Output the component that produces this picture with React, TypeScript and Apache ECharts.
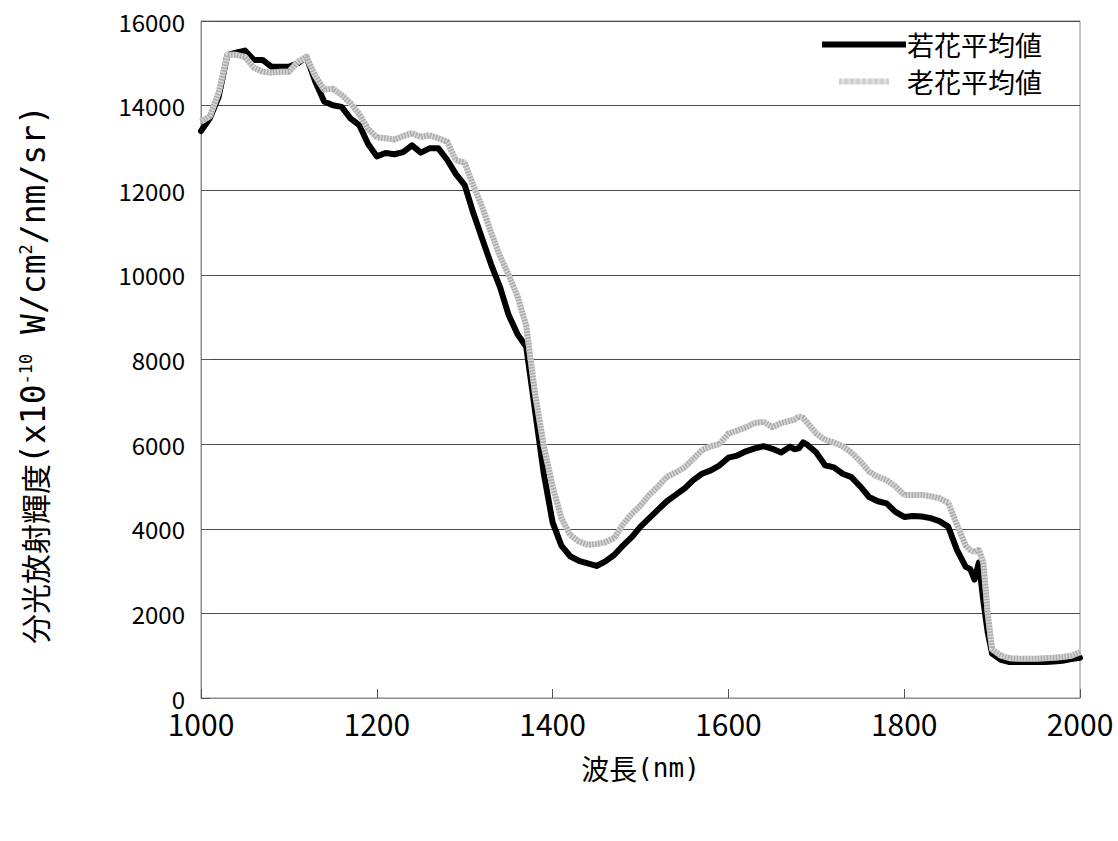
import React, { useEffect, useRef } from "react";
import * as echarts from "echarts";

const wavelengths = [
  1000, 1010, 1020, 1030, 1040, 1050, 1060, 1070, 1080, 1090,
  1100, 1110, 1120, 1130, 1140, 1150, 1160, 1170, 1180, 1190,
  1200, 1210, 1220, 1230, 1240, 1250, 1260, 1270, 1280, 1290,
  1300, 1310, 1320, 1330, 1340, 1350, 1360, 1370, 1380, 1390,
  1400, 1410, 1420, 1430, 1440, 1450, 1460, 1470, 1480, 1490,
  1500, 1510, 1520, 1530, 1540, 1550, 1560, 1570, 1580, 1590,
  1600, 1610, 1620, 1630, 1640, 1650, 1660, 1670, 1675, 1680,
  1685, 1690, 1700, 1710, 1720, 1730, 1740, 1750, 1760, 1770,
  1780, 1790, 1800, 1810, 1820, 1830, 1840, 1850, 1860, 1870,
  1875, 1880, 1885, 1890, 1895, 1900, 1910, 1920, 1930, 1940,
  1950, 1960, 1970, 1980, 1990, 2000,
];

const youngFlower = [
  13400, 13700, 14200, 15200, 15250, 15300, 15080, 15080, 14920, 14920,
  14920, 15000, 15150, 14570, 14100, 14010, 13970, 13700, 13540, 13100,
  12800, 12880, 12850, 12900, 13060, 12890, 12990, 12990, 12720, 12380,
  12120, 11450, 10850, 10250, 9720, 9050, 8600, 8300, 6800, 5300,
  4150, 3600, 3350, 3240, 3180, 3120, 3230, 3380, 3600, 3800,
  4050, 4250, 4450, 4650, 4800, 4950, 5150, 5300, 5380, 5500,
  5680, 5730, 5830, 5900, 5950, 5890, 5800, 5940, 5880, 5900,
  6040, 5980, 5800, 5500, 5450, 5300, 5220, 5000, 4750, 4650,
  4600, 4400, 4280, 4300, 4290, 4250, 4180, 4050, 3500, 3100,
  3050, 2800, 3200, 2300, 1550, 1050, 900, 850, 850, 850,
  850, 850, 860, 880, 920, 950,
];

const oldFlower = [
  13620, 13750, 14300, 15200, 15200, 15150, 14900, 14800, 14780, 14800,
  14800, 15030, 15150, 14700, 14380, 14400, 14250, 14060, 13800, 13450,
  13250, 13230, 13200, 13280, 13350, 13260, 13300, 13230, 13150, 12710,
  12650, 12100, 11600, 11000, 10450, 10000, 9500, 8800, 7200, 5950,
  5000, 4250, 3850, 3700, 3620, 3640, 3680, 3780, 4100, 4350,
  4550, 4800, 5000, 5230, 5330, 5450, 5650, 5860, 5950, 6000,
  6250, 6320, 6400, 6500, 6530, 6400, 6500, 6550, 6580, 6650,
  6620, 6500, 6250, 6100, 6040, 5950, 5800, 5600, 5350, 5230,
  5150, 5000, 4800, 4800, 4800, 4770, 4720, 4620, 4100, 3600,
  3500, 3450, 3500, 3200, 2000, 1150, 1000, 940, 930, 930,
  930, 940, 950, 970, 1000, 1080,
];

const seriesNames = ["若花平均値", "老花平均値"];
const xName = "{c|波長}{m|(nm)}";
const yName = "{c|分光放射輝度}{m|(x10}{s|-10}{m| W/cm}{s|2}{m|/nm/sr)}{gap|}";

const FONT = "'Noto Sans CJK JP', 'Noto Sans', sans-serif";
const MONO = "'DejaVu Sans Mono', 'Liberation Mono', monospace";

function stripePath(n: number): string {
  let d = "";
  for (let i = 0; i < n; i++) {
    d += `M${i * 2},0h1v10h-1z`;
  }
  return "path://" + d;
}

export default function App() {
  const ref = useRef<HTMLDivElement>(null);

  useEffect(() => {
    if (!ref.current) return;
    const chart = echarts.init(ref.current, undefined, { renderer: "svg" });
    const young = wavelengths.map((w, i) => [w, youngFlower[i]]);
    const old = wavelengths.map((w, i) => [w, oldFlower[i]]);

    const yRich = {
      c: { fontFamily: FONT, fontSize: 30, color: "#000" },
      m: { fontFamily: MONO, fontSize: 33, color: "#000" },
      s: { fontFamily: MONO, fontSize: 17, color: "#000", verticalAlign: "top", padding: [0, 0, 12, 0] },
      gap: { width: 30 },
    };
    const xRich = {
      c: { fontFamily: FONT, fontSize: 28, color: "#000" },
      m: { fontFamily: MONO, fontSize: 26, color: "#000" },
    };

    chart.setOption({
      animation: false,
      backgroundColor: "#ffffff",
      textStyle: { fontFamily: FONT },
      grid: {
        left: 201,
        right: 38,
        top: 21,
        bottom: 143,
        show: true,
        borderColor: "#8c8c8c",
        borderWidth: 1,
      },
      legend: {
        orient: "vertical",
        left: 812,
        top: 27,
        backgroundColor: "#ffffff",
        padding: [4, 14, 6, 10],
        itemWidth: 84,
        itemHeight: 6,
        itemGap: 10,
        data: [
          { name: seriesNames[0], icon: "rect", itemStyle: { color: "#000" } },
          { name: seriesNames[1], icon: stripePath(42), itemStyle: { color: "#ababab" } },
        ],
        textStyle: { fontFamily: FONT, fontSize: 27, color: "#000", padding: [0, 0, 0, -4] },
      },
      xAxis: {
        type: "value",
        min: 1000,
        max: 2000,
        interval: 200,
        name: xName,
        nameLocation: "middle",
        nameGap: 56,
        nameTextStyle: { rich: xRich },
        axisLine: { show: true, lineStyle: { color: "#8c8c8c", width: 1 } },
        axisTick: { show: true, inside: true, length: 9, lineStyle: { color: "#555" } },
        axisLabel: { fontFamily: FONT, fontSize: 30, lineHeight: 26, color: "#000", margin: 12, formatter: (v: number) => String(v) },
        splitLine: { show: false },
      },
      yAxis: {
        type: "value",
        min: 0,
        max: 16000,
        interval: 2000,
        name: yName,
        nameLocation: "middle",
        nameRotate: 90,
        nameGap: 151,
        nameTextStyle: { rich: yRich },
        axisLine: { show: true, lineStyle: { color: "#8c8c8c", width: 1 } },
        axisTick: { show: true, inside: true, length: 9, lineStyle: { color: "#555" } },
        axisLabel: { fontFamily: FONT, fontSize: 24, lineHeight: 18, color: "#000", margin: 16, formatter: (v: number) => String(v) },
        splitLine: { show: true, lineStyle: { color: "#4a4a4a", width: 1 } },
      },
      series: [
        {
          name: seriesNames[0],
          type: "line",
          data: young,
          showSymbol: false,
          symbol: "none",
          lineStyle: { color: "#000000", width: 6, join: "round", cap: "round" },
          itemStyle: { color: "#000000" },
          z: 2,
        },
        {
          name: "__oldBase",
          type: "line",
          data: old,
          showSymbol: false,
          symbol: "none",
          lineStyle: { color: "#d8d8d8", width: 6, join: "round" },
          itemStyle: { color: "#d8d8d8" },
          z: 3,
          silent: true,
        },
        {
          name: seriesNames[1],
          type: "line",
          data: old,
          showSymbol: false,
          symbol: "none",
          lineStyle: { color: "#ababab", width: 6, type: [1.5, 1.5] },
          itemStyle: { color: "#ababab" },
          z: 4,
        },
      ],
    });
    return () => chart.dispose();
  }, []);

  return (
    <div
      ref={ref}
      style={{ position: "absolute", left: 0, top: 0, width: 1118, height: 841 }}
    />
  );
}
